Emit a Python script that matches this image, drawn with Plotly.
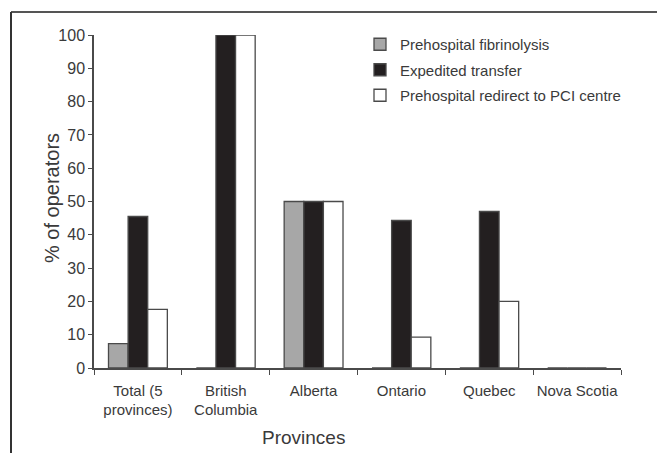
import plotly.graph_objects as go

categories = ["Total (5<br>provinces)", "British<br>Columbia", "Alberta", "Ontario", "Quebec", "Nova Scotia"]
fibrinolysis = [7.3, 0, 50, 0, 0, 0]
expedited = [45.5, 100, 50, 44.3, 47, 0]
redirect = [17.6, 100, 50, 9.3, 20, 0]
series_names = ["Prehospital fibrinolysis", "Expedited transfer", "Prehospital redirect to PCI centre"]
y_ticks = [0, 10, 20, 30, 40, 50, 60, 70, 80, 90, 100]

FONT = "Liberation Sans, Arial, sans-serif"
TXT = "#3a3a3a"
LINE = "#4a4a4a"

fig = go.Figure()
for i, (name, vals, col) in enumerate(zip(series_names, [fibrinolysis, expedited, redirect],
                                          ["#a7a7a7", "#231f20", "#ffffff"])):
    fig.add_trace(go.Bar(x=categories, y=vals, name=name, legendgroup=f"g{i}",
                         marker=dict(color=col, line=dict(color=LINE, width=1.3))))

W, H = 657, 453
L, R, T, B = 94, 36, 35, 85
pw, ph = W - L - R, H - T - B

def px_x(px):
    return (px - L) / pw

def px_y(py):
    return (H - B - py) / ph

fig.update_layout(
    width=W, height=H,
    margin=dict(l=L, r=R, t=T, b=B),
    paper_bgcolor="white", plot_bgcolor="white",
    barmode="group", bargap=0.33, bargroupgap=0,
    font=dict(family=FONT, color=TXT, size=15),
    showlegend=True,
    legend=dict(x=px_x(360), y=px_y(28), xanchor="left", yanchor="top",
                font=dict(size=15, color=TXT), bgcolor="rgba(0,0,0,0)",
                tracegroupgap=3),
    xaxis=dict(type="category", range=[-0.5, 5.5], tickson="boundaries",
               ticks="outside", ticklen=5, tickcolor=LINE, tickwidth=1.3,
               showline=True, linecolor=LINE, linewidth=1.5, showgrid=False,
               tickangle=0, tickfont=dict(size=15, color=TXT), ticklabelstandoff=8),
    yaxis=dict(range=[0, 100], tickvals=y_ticks, ticks="outside", ticklen=4,
               tickcolor=LINE, tickwidth=1.3, showline=True, linecolor=LINE,
               linewidth=1.5, showgrid=False, zeroline=False,
               tickfont=dict(size=16, color=TXT)),
    annotations=[
        dict(text="Provinces", xref="paper", yref="paper", x=px_x(303), y=px_y(437),
             xanchor="center", yanchor="middle", showarrow=False,
             font=dict(size=19, color=TXT)),
        dict(text="% of operators", xref="paper", yref="paper", x=px_x(52), y=px_y(198),
             xanchor="center", yanchor="middle", showarrow=False, textangle=-90,
             font=dict(size=20, color=TXT)),
    ],
    shapes=[
        dict(type="line", xref="paper", yref="paper", x0=px_x(11), x1=px_x(660),
             y0=px_y(12), y1=px_y(12), line=dict(color="#555555", width=2)),
        dict(type="line", xref="paper", yref="paper", x0=px_x(11), x1=px_x(11),
             y0=px_y(12), y1=px_y(460), line=dict(color="#333333", width=2)),
    ],
)

fig.write_html("out.html", config={"displayModeBar": False},
               post_script="document.body.style.margin='0';document.body.style.overflow='hidden';")
